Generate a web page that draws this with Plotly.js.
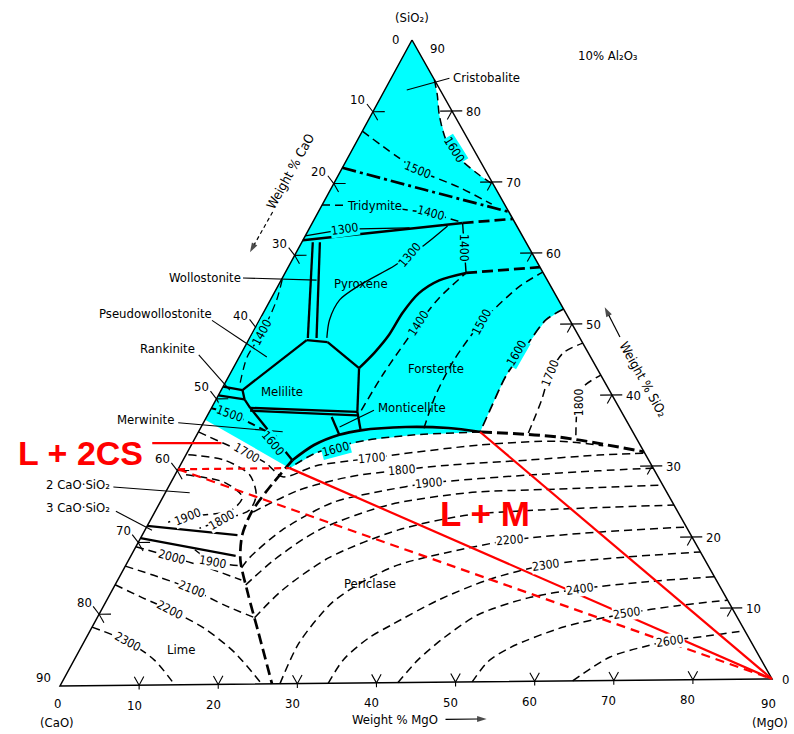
<!DOCTYPE html>
<html><head><meta charset="utf-8">
<script src="https://cdn.plot.ly/plotly-3.0.1.min.js"></script>
<style>html,body{margin:0;padding:0;background:#fff}#chart{width:794px;height:734px}</style>
</head><body><div id="chart"></div>
<script>
// ---- DATA: compositions as [MgO, SiO2] wt% ; CaO = 90 - MgO - SiO2 (10 % Al2O3 section) ----
const tickValues = [0,10,20,30,40,50,60,70,80,90];
const tickMarks = [10,20,30,40,50,60,70,80];

const cyanCorners = [[0,90],[0,37.1]];
const iso1600Silica = [[5.6,84.4],[7.0,82.3],[8.7,79.4],[11.3,75.9],[14.6,73.1],[17.9,71.0],[20.4,69.6]];
const iso1600Fo = [[37.9,52.1],[36.4,50.6],[35.6,46.0],[35.2,42.7],[35.5,38.5],[35.8,35.0]];
const iso1600Low = [[35.8,35.0],[27.8,34.7],[21.9,34.0],[16.4,32.3],[14.1,30.2]];

const bCrisTrid = [[0,72.2],[12.0,69.0],[24.2,65.8]];
const bTridPyx = [[0,62.1],[19.1,64.3]];
const bTridPyxDash = [[19.1,64.3],[25.2,64.8]];
const tie1400 = [[19.1,64.3],[23.0,57.3]];
const bPyxFo = [[23.0,57.3],[20.1,56.3],[18.4,54.5],[17.7,51.8],[17.5,48.7],[16.9,46.3],[16.0,44.1]];
const bPyxFoDash = [[23.0,57.3],[32.0,58.0]];
const bWoA = [[1.4,61.8],[7.4,48.4]];
const bWoB = [[2.3,61.8],[8.5,48.4]];
const bWoJunction = [[7.4,48.1],[10.2,47.8]];
const bMelTopLeft = [[7.4,48.1],[2.7,41.2]];
const bMelTopRight = [[10.2,47.8],[16.0,44.1]];
const bMelRight = [[16.0,44.1],[18.8,38.0]];
const bMelBottom1 = [[4.9,38.7],[18.8,38.0]];
const bMelBottom2 = [[5.1,38.3],[19.0,37.5]];
const bRank1 = [[0,41.7],[2.7,41.2]];
const bRank2 = [[0,40.5],[3.6,39.9]];
const bMelLeft = [[2.7,41.2],[3.6,39.9],[4.9,38.7]];
const bMerMel = [[4.9,38.7],[13.9,31.3]];
const bPericlase = [[13.9,31.3],[15.6,33.4],[18.1,34.8],[20.5,35.4],[26.0,35.8],[31.5,35.6],[35.9,35.0]];
const bPericlaseDash = [[35.9,35.0],[46.0,34.2],[58.0,32.0]];
const bMontiLeft = [[15.9,37.3],[18.1,34.8]];
const bMontiRight = [[18.8,38.0],[20.5,35.4]];
const bLimePer = [[13.9,31.3],[12.8,27.2],[12.3,24.1],[12.7,20.9],[14.2,17.4],[17.4,12.8],[21.6,7.1],[26.8,0]];
const bC3S1 = [[0,22.3],[12.1,20.9]];
const bC3S2 = [[0,20.6],[13.3,18.0]];

const iso1500Cr = [[0,77.3],[5.8,73.9],[9.7,71.8],[16.2,69.3],[21.5,66.9]];
const iso1400Tr = [[0,67.0],[6.7,66.9],[14.4,65.7],[19.0,64.4]];
const iso1300Tr = [[0,62.7],[4.6,63.6],[12.7,63.7]];
const iso1300Px = [[17.4,63.9],[15.8,61.3],[14.6,59.9],[13.4,58.4],[10.3,55.7],[8.8,53.7],[8.9,50.9],[9.8,48.4]];
const iso1400Px = [[19.2,38.2],[19.5,43.5],[20.5,50.3],[21.3,53.8],[23.0,57.3]];
const iso1500Fo = [[28.4,35.6],[27.6,40.2],[27.5,45.1],[28.4,50.4],[30.7,55.3],[32.7,57.3]];
const iso1700Fo = [[42.0,34.8],[41.4,39.4],[40.6,43.2],[40.9,46.0],[42.7,47.3]];
const iso1800Fo = [[48.2,34.4],[46.9,37.2],[46.2,39.1],[45.8,41.2],[47.2,42.8]];
const iso1400Pw = [[0.1,56.6],[0.8,53.8],[1.2,49.3],[1.0,45.8],[2.0,41.9]];
const iso1500Mw = [[0,38.7],[2.8,37.9],[5.9,36.6],[10.3,34.6]];
const iso1700 = [[0,35.4],[5.4,33.2],[7.6,32.4],[10.8,30.9],[13.8,29.0],[17.3,30.5],[21.7,31.2],[23.9,31.5],[26.4,31.9],[36.9,33.2],[46.3,33.6],[52.4,32.9]];
const iso1800C2S = [[0.3,32.2],[5.3,31.4],[9.5,29.3],[11.7,26.5],[11.9,24.4],[9.1,23.0],[6.8,21.9]];
const iso1900C2S = [[1.4,29.4],[6.8,28.3],[10.1,26.2],[9.6,24.4],[4.5,23.5],[2.4,22.8]];
const iso1800Per = [[12.5,24.1],[16.8,27.1],[22.3,28.9],[28.5,29.8],[34.1,30.4],[43.8,31.0],[52.4,31.6],[58.2,31.8]];
const iso1900Per = [[14.9,16.3],[15.2,17.7],[17.4,21.5],[21.9,25.3],[26.7,26.7],[32.8,27.9],[44.9,28.9],[53.5,29.4],[60.3,29.7]];
const iso1900C3S = [[7.7,18.9],[10.8,17.2],[14.5,16.6]];
const iso2000Lime = [[0,19.4],[5.3,17.9],[10.1,16.5],[15.7,14.6]];
const iso2000Per = [[16.6,13.9],[18.5,17.4],[22.1,21.5],[29.2,24.9],[38.5,26.5],[49.6,26.9],[62.7,27.3]];
const iso2100Lime = [[0,16.7],[5.1,15.1],[10.0,13.4],[15.3,11.1],[20.0,9.3]];
const iso2100Per = [[20.0,9.3],[21.6,13.1],[25.3,17.6],[32.2,21.4],[40.0,23.4],[48.9,24.0],[65.5,24.5]];
const iso2200Lime = [[0,14.1],[4.0,12.4],[8.7,10.5],[14.3,7.9],[19.8,4.5],[25.5,0]];
const iso2200Per = [[27.8,0],[27.4,5.7],[28.8,11.3],[31.5,14.4],[34.6,16.5],[40.1,18.2],[47.1,19.8],[57.6,20.8],[68.6,21.4]];
const iso2300Lime = [[0,8.2],[5.6,6.1],[10.2,3.5],[14.5,0]];
const iso2300Per = [[33.9,0],[34.2,3.3],[35.9,6.3],[37.9,8.1],[42.1,11.5],[47.1,14.3],[53.4,16.3],[62.0,17.2],[72.1,17.9]];
const iso2400Per = [[42.7,0],[43.7,3.2],[45.5,6.3],[48.2,9.4],[53.4,11.7],[59.4,12.9],[67.4,13.8],[75.6,14.4]];
const iso2500Per = [[52.1,0],[52.7,2.8],[54.6,4.8],[60.0,7.6],[67.0,9.4],[72.9,10.4],[78.9,11.1]];
const iso2600Per = [[64.8,0],[67.9,3.3],[71.8,4.8],[74.4,5.5],[78.7,6.1],[83.2,6.8]];

const redTie1 = [[14.1,30.2],[90,0]];
const redTie2 = [[35.8,35.0],[90,0]];
const redDashH = [[0,30.2],[14.1,30.2]];
const redDash2 = [[0,30.2],[90,0]];
const redUnder = [[-5.1,33.9],[3.7,33.8]];

const leaders = {
  Cristobalite: [[2.8,83.0],[6.1,84.1],[7.4,84.6]],
  Wollostonite: [[-5.0,56.9],[4.5,56.5]],
  Pseudo: [[-6.0,51.0],[3.5,45.8]],
  Rankinite: [[-5.3,46.2],[1.1,41.2]],
  Merwinite: [[-3.2,36.7],[10.7,35.3]],
  C2S: [[-7.0,27.8],[3.1,26.9]],
  C3S: [[-5.0,24.4],[0.9,21.7]],
  Monticellite: [[17.6,35.9],[20.8,38.2]]
};
// axis-title arrows: [tail, head]
const arrowCaO = [[-5.8,66.1],[-5.9,60.5]];
const arrowSiO2 = [[47.0,48.1],[43.0,52.3]];
const arrowMgO = [[51.3,-5.2],[56.5,-5.2]];

// isotherm labels: [text, [MgO,SiO2], angle, background]
const isoLabels = [
  ['1500',[9.7,71.8],22,'cyan'],['1600',[13.0,74.5],58,'cyan'],['1400',[14.4,65.7],15,'cyan'],
  ['1300',[4.6,63.6],-8,'cyan'],['1300',[14.6,59.9],-50,'cyan'],['1400',[21.0,60.8],90,'cyan'],
  ['1400',[20.5,50.3],-57,'cyan'],['1500',[28.4,50.4],-62,'cyan'],['1600',[35.0,46.0],-60,'cyan'],
  ['1700',[40.6,43.2],-68,'white'],['1800',[46.2,39.1],-90,'white'],['1400',[1.2,49.3],-62,'cyan'],
  ['1500',[2.8,37.9],20,'cyan'],['1600',[10.2,33.7],50,'cyan'],['1600',[18.7,32.8],-15,'cyan'],
  ['1700',[7.6,32.4],30,'white'],['1700',[23.9,31.5],-5,'white'],['1800',[9.1,23.0],-30,'white'],
  ['1800',[28.5,29.8],-5,'white'],['1900',[4.5,23.5],-22,'white'],['1900',[32.8,27.9],-5,'white'],
  ['2000',[5.3,17.9],15,'white'],['1900',[10.8,17.2],10,'white'],['2100',[10.0,13.4],22,'white'],
  ['2200',[8.7,10.5],27,'white'],['2300',[5.6,6.1],28,'white'],['2200',[47.1,19.8],-5,'white'],
  ['2300',[53.4,16.3],-8,'white'],['2400',[59.4,12.9],-8,'white'],['2500',[67.0,9.4],-8,'white'],
  ['2600',[74.4,5.5],-8,'white']
];
// phase labels: [text, [MgO,SiO2], xanchor]
const phaseLabels = [
  ['Cristobalite',[7.6,84.7],'left'],['Pyroxene',[10.4,56.0],'center'],['Melilite',[7.9,40.9],'center'],
  ['Forsterite',[25.8,43.9],'center'],['Periclase',[32.3,14.0],'center'],['Lime',[12.9,4.9],'center'],
  ['Wollostonite',[-5.0,56.9],'right'],['Pseudowollostonite',[-6.2,52.0],'right'],['Rankinite',[-6.0,47.1],'right'],
  ['Merwinite',[-3.7,37.1],'right'],['2 CaO·SiO₂',[-7.3,28.1],'right'],['3 CaO·SiO₂',[-5.7,24.9],'right'],
  ['Monticellite',[20.9,38.6],'left']
];

// ---- ternary -> page mapping (triangle vertex positions in the 794x734 axes) ----
const V = {T:[412,40], L:[60,686], R:[772,679]};
function tp(p){ const m=p[0], s=p[1], c=90-m-s;
  return [(V.T[0]*s+V.L[0]*c+V.R[0]*m)/90, (V.T[1]*s+V.L[1]*c+V.R[1]*m)/90]; }
function xy(pts){ const x=[],y=[]; pts.forEach(p=>{ if(p===null){x.push(null);y.push(null);} else {const q=tp(p);x.push(q[0]);y.push(q[1]);} }); return {x,y}; }

const FONT = "'Liberation Sans Narrow','DejaVu Sans Condensed','Arial Narrow','Roboto Condensed','DejaVu Sans',sans-serif";
const CYAN = '#00FFFF';
const traces = [];
function addLine(pts, color, width, dash, spline){
  const d = xy(pts);
  traces.push({type:'scatter',mode:'lines',x:d.x,y:d.y,hoverinfo:'skip',showlegend:false,
    line:{color:color,width:width,dash:dash||'solid',shape:spline?'spline':'linear',smoothing:0.8}});
}
function addArrow(pts, dash){
  const d = xy(pts);
  traces.push({type:'scatter',mode:'lines+markers',x:d.x,y:d.y,hoverinfo:'skip',showlegend:false,
    line:{color:'#000',width:1.2,dash:dash||'solid'},
    marker:{symbol:'arrow',size:[0,10],angleref:'previous',color:'#000',line:{width:0}}});
}

// cyan liquid field
(function(){
  const poly = [cyanCorners[0]].concat(iso1600Silica, iso1600Fo, iso1600Low.slice(1), [cyanCorners[1], cyanCorners[0]]);
  const d = xy(poly);
  traces.push({type:'scatter',mode:'lines',x:d.x,y:d.y,fill:'toself',fillcolor:CYAN,line:{width:0,color:CYAN},hoverinfo:'skip',showlegend:false});
})();

const ISO = '8px,5px', THD = '11px,5px', LW = 1.5;
// isotherms
addLine(iso1600Silica,'#000',LW,ISO,true);
addLine(iso1600Fo,'#000',1.7,'10px,5px',true);
addLine(iso1600Low,'#000',LW,ISO,true);
addLine(iso1500Cr,'#000',LW,ISO,true);
addLine(iso1400Tr,'#000',LW,ISO,false);
addLine(iso1300Tr,'#000',1.3,'solid',false);
addLine(iso1300Px,'#000',1.3,'solid',true);
addLine(iso1400Px,'#000',LW,ISO,true);
addLine(iso1500Fo,'#000',LW,ISO,true);
addLine(iso1700Fo,'#000',LW,ISO,true);
addLine(iso1800Fo,'#000',LW,ISO,true);
addLine(iso1400Pw,'#000',1.3,ISO,true);
addLine(iso1500Mw,'#000',2.0,ISO,true);
addLine(iso1700,'#000',LW,ISO,true);
addLine(iso1800C2S,'#000',LW,ISO,true);
addLine(iso1900C2S,'#000',LW,ISO,true);
addLine(iso1800Per,'#000',LW,ISO,true);
addLine(iso1900Per,'#000',LW,ISO,true);
addLine(iso1900C3S,'#000',LW,ISO,true);
addLine(iso2000Lime,'#000',LW,ISO,true);
addLine(iso2000Per,'#000',LW,ISO,true);
addLine(iso2100Lime,'#000',LW,ISO,true);
addLine(iso2100Per,'#000',LW,ISO,true);
addLine(iso2200Lime,'#000',LW,ISO,true);
addLine(iso2200Per,'#000',LW,ISO,true);
addLine(iso2300Lime,'#000',LW,ISO,true);
addLine(iso2300Per,'#000',LW,ISO,true);
addLine(iso2400Per,'#000',LW,ISO,true);
addLine(iso2500Per,'#000',LW,ISO,true);
addLine(iso2600Per,'#000',LW,ISO,true);

// phase boundaries
addLine(bCrisTrid,'#000',2.7,'14px,4px,3px,4px',true);
addLine(bTridPyx,'#000',2.7);
addLine(bTridPyxDash,'#000',2.7,THD);
addLine(tie1400,'#000',1.4);
addLine(bPyxFo,'#000',2.5,'solid',true);
addLine(bPyxFoDash,'#000',2.7,THD);
[bWoA,bWoB,bWoJunction,bMelTopLeft,bMelTopRight,bMelRight,bMelBottom1,bMelBottom2,bRank1,bRank2,bMelLeft,bMerMel,bMontiLeft,bMontiRight,bC3S1,bC3S2]
  .forEach(b=>addLine(b,'#000',2.3));
addLine(bPericlase,'#000',2.7,'solid',true);
addLine(bPericlaseDash,'#000',2.9,THD,true);
addLine(bLimePer,'#000',2.7,THD,true);

// leaders
Object.values(leaders).forEach(l=>addLine(l,'#000',1.1));

// triangle
addLine([[0,90],[0,0],[90,0],[0,90]],'#000',1.5);

// tick marks (short grid-line stubs)
(function(){
  const pts = [];
  tickMarks.forEach(v=>{
    pts.push([0,90-v],[1.5,90-v],null,[0,90-v],[1.2,90-v-1.2],null,[-1.3,90-v+1.1],[0,90-v],null);
    pts.push([90-v-1.5,v],[90-v+1.3,v],null,[90-v,v],[90-v,v-1.2],null);
    pts.push([v-1.2,1.2],[v,0],[v,1.2],null,[v,0],[v+0.3,-0.6],null);
  });
  addLine(pts,'#000',1.1);
})();

// axis arrows
addArrow(arrowCaO,'4px,3px');
addArrow(arrowSiO2);
addArrow(arrowMgO);

// red overlay
addLine(redTie1,'#FF0000',2.2);
addLine(redTie2,'#FF0000',2.2);
addLine(redDashH,'#FF0000',2.2,'7px,5px');
addLine(redDash2,'#FF0000',2.2,'9px,6px');
addLine(redUnder,'#FF0000',2.2);

// ---- annotations ----
const ann = [];
function lab(text,p,o){ const q=tp(p); return Object.assign({x:q[0],y:q[1],xref:'x',yref:'y',text:text,showarrow:false,
  font:{family:FONT,size:13,color:'#000'}},o||{}); }

isoLabels.forEach(a=>ann.push(lab(a[0],a[1],{textangle:a[2],bgcolor:a[3]==='cyan'?CYAN:'#fff',borderpad:0,font:{family:FONT,size:12,color:'#000'}})));
ann.push(lab('Tridymite',[6.7,66.9],{bgcolor:CYAN,borderpad:0}));
phaseLabels.forEach(a=>ann.push(lab(a[0],a[1],{xanchor:a[2]})));

ann.push(lab('L + 2CS',[-13.5,32.6],{font:{family:'Liberation Sans, Arial, sans-serif',size:34,color:'#FF0000',weight:'bold'}}));
ann.push(lab('L + M',[42.1,23.6],{font:{family:'Liberation Sans, Arial, sans-serif',size:35,color:'#FF0000',weight:'bold'}}));

// tick labels
tickValues.forEach(v=>{
  let xs=-15, ys=12; if(v===0){xs=-17;ys=1;} if(v===90){xs=-17;ys=9;}
  ann.push(lab(String(v),[0,90-v],{xshift:xs,yshift:ys}));
  let rx=21, ry=0; if(v===0){rx=13;} if(v===90){rx=25;ry=-8;}
  ann.push(lab(String(v),[90-v,v],{xshift:rx,yshift:ry}));
  let bx=-5, by=-20; if(v===0){bx=-3;by=-17;} if(v===90){bx=-4;by=-24;}
  ann.push(lab(String(v),[v,0],{xshift:bx,yshift:by}));
});
ann.push(lab('(CaO)',[0,0],{xshift:-3,yshift:-36}));
ann.push(lab('(MgO)',[90,0],{xshift:-2,yshift:-43}));
ann.push(lab('(SiO₂)',[0,90],{yshift:23}));
ann.push({xref:'paper',yref:'paper',x:640/794,y:1-46/734,text:'10% Al₂O₃',showarrow:false,font:{family:FONT,size:13,color:'#000'}});

// axis titles
ann.push(lab('Weight % CaO',[-6.3,71.7],{textangle:-61}));
ann.push(lab('Weight % SiO₂',[52.9,42.1],{textangle:61}));
ann.push(lab('Weight % MgO',[44.9,-5.2],{}));

const layout = {width:794,height:734,margin:{l:0,r:0,t:0,b:0},paper_bgcolor:'#fff',plot_bgcolor:'#fff',showlegend:false,
  xaxis:{range:[0,794],visible:false,fixedrange:true},yaxis:{range:[734,0],visible:false,fixedrange:true},annotations:ann};
Plotly.newPlot('chart',traces,layout,{staticPlot:true,displayModeBar:false});
</script></body></html>
